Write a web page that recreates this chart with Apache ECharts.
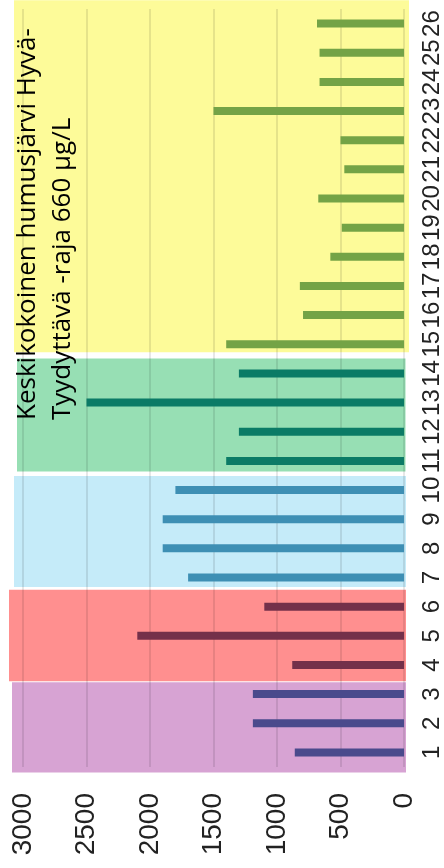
<!DOCTYPE html>
<html>
<head>
<meta charset="utf-8">
<script src="https://cdn.jsdelivr.net/npm/echarts@6/dist/echarts.min.js"></script>
<style>
html,body{margin:0;padding:0;background:#fff;}
#main{width:444px;height:868px;}
</style>
</head>
<body>
<div id="main"></div>
<script>
// ---- data ----
const categories = ['1','2','3','4','5','6','7','8','9','10','11','12','13','14','15','16','17','18','19','20','21','22','23','24','25','26'];
const values = [860,1190,1190,880,2100,1100,1700,1900,1900,1800,1400,1300,2500,1300,1400,795,820,580,490,675,470,500,1500,665,665,685];
const valueTicks = [0,500,1000,1500,2000,2500,3000];
const groupStart = [1,4,7,11,15];
const groupEnd = [3,6,10,14,26];
const annotation = 'Keskikokoinen humusjärvi Hyvä-\nTyydyttävä -raja 660 µg/L';

// ---- styles ----
const barColors = ['#4a4a8c','#74304a','#3e8fb4','#0b7b66','#74a346'];
const bandColors = ['#d7a3d3','#ff8f8f','#c5ebf9','#97dfb4','#fdfb99'];
// band extents in category units (fine layout of the background panels)
const bandLo = [0.31,3.44,6.67,10.64,14.73];
const bandHi = [3.41,6.58,10.48,14.51,26.8];
const bandLeftPad = [11,14,9,6,9];
const bandRightPad = [2,2,2,1.5,5];

function groupOf(cat){
  for(let g=0; g<groupStart.length; g++){
    if(cat>=groupStart[g] && cat<=groupEnd[g]) return g;
  }
  return 0;
}

const chart = echarts.init(document.getElementById('main'), null, {renderer:'canvas'});

const bandData = groupStart.map((s,i)=>[i, s-1]);

const option = {
  animation:false,
  grid:{left:23, right:37, top:9, bottom:101, containLabel:false},
  xAxis:{
    type:'value', inverse:true, min:valueTicks[0], max:valueTicks[valueTicks.length-1], interval:500,
    position:'bottom',
    axisLine:{show:false}, axisTick:{show:false},
    axisLabel:{rotate:90, margin:26, color:'#222', fontSize:28, fontFamily:"'Liberation Sans', Arial, sans-serif",
      formatter:v=>String(v)},
    splitLine:{show:true, lineStyle:{color:'rgba(0,0,0,0.13)', width:1.5}}
  },
  yAxis:{
    type:'category', data:categories, position:'right',
    axisLine:{show:false}, axisTick:{show:false},
    axisLabel:{interval:0, rotate:90, margin:16, color:'#222', fontSize:24, fontFamily:"'Liberation Sans', Arial, sans-serif"},
    splitLine:{show:false}
  },
  series:[
    {
      type:'custom', z:-1, silent:true,
      data:bandData,
      encode:{x:-1, y:1},
      renderItem:function(params, api){
        const i = api.value(0);
        const cs = params.coordSys;
        const y0 = api.coord([0,0])[1];
        const y1 = api.coord([0,1])[1];
        const step = y0 - y1;
        const yBottom = y0 - (bandLo[i]-1)*step;
        const yTop = y0 - (bandHi[i]-1)*step;
        const xLeft = cs.x - bandLeftPad[i];
        const xRight = cs.x + cs.width + bandRightPad[i];
        return {type:'rect', shape:{x:xLeft, y:yTop, width:xRight-xLeft, height:yBottom-yTop},
          style:{fill:bandColors[i]}};
      }
    },
    {
      type:'bar', barWidth:8, z:3,
      data:values.map((v,k)=>({value:v, itemStyle:{color:barColors[groupOf(k+1)]}}))
    }
  ],
  graphic:[
    {
      type:'text', x:10, y:420, rotation:Math.PI/2, z:10,
      style:{text:annotation, fill:'#000', font:"26px 'Open Sans', 'Noto Sans', sans-serif",
        textAlign:'left', textVerticalAlign:'top', lineHeight:35}
    }
  ]
};
chart.setOption(option);
</script>
</body>
</html>
